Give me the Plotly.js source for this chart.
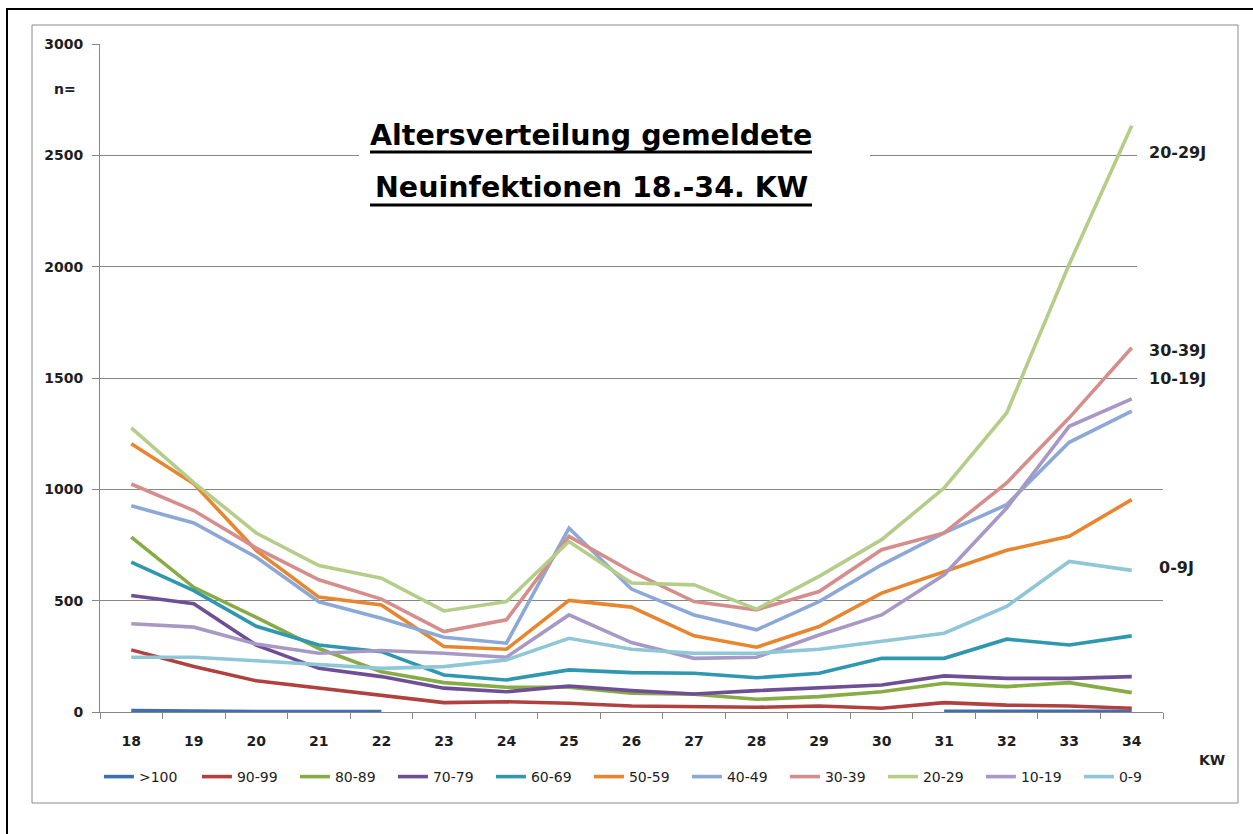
<!DOCTYPE html>
<html>
<head>
<meta charset="utf-8">
<script src="https://cdn.plot.ly/plotly-3.0.1.min.js"></script>
<style>html,body{margin:0;padding:0;background:#fff;}#chart{width:1253px;height:834px;}</style>
</head>
<body>
<div id="chart"></div>
<script>
// Kalenderwochen (KW)
const weeks = ["18","19","20","21","22","23","24","25","26","27","28","29","30","31","32","33","34"];

// Altersgruppen / series
const groups = [">100","90-99","80-89","70-79","60-69","50-59","40-49","30-39","20-29","10-19","0-9"];
const colors = ["#3F6FAF","#B0413E","#88AC45","#6E4F96","#3097B0","#E8862F","#8CA8D6","#D58E8C","#B4CE8A","#A898C6","#8FC6D8"];

const s_over100 = [7,3,2,2,2,null,null,null,null,null,null,null,null,3,3,3,3];
const s_90_99 = [279,204,140,106,76,42,46,39,27,24,21,27,17,42,31,27,17];
const s_80_89 = [785,560,425,285,181,132,111,111,84,80,57,69,91,129,114,132,87];
const s_70_79 = [523,486,300,196,159,107,91,117,96,81,96,107,121,162,151,151,159];
const s_60_69 = [673,545,385,301,271,166,144,189,177,174,154,174,241,241,327,301,342];
const s_50_59 = [1205,1025,725,516,481,294,282,501,471,342,291,384,534,631,726,789,954];
const s_40_49 = [926,849,695,495,421,336,309,826,552,436,369,496,661,804,931,1211,1351];
const s_30_39 = [1024,905,736,594,507,361,414,789,631,496,459,541,729,804,1029,1321,1636];
const s_20_29 = [1276,1030,804,658,601,454,496,766,579,571,462,609,774,1006,1343,2011,2633];
const s_10_19 = [396,381,305,264,276,264,246,436,312,241,246,346,436,616,916,1283,1406];
const s_0_9 = [246,246,230,211,196,204,234,331,282,264,264,282,316,354,474,676,636];

const seriesValues = [s_over100,s_90_99,s_80_89,s_70_79,s_60_69,s_50_59,s_40_49,s_30_39,s_20_29,s_10_19,s_0_9];

const yTicks = [0,500,1000,1500,2000,2500,3000];

const traces = groups.map((g,i)=>({
  type:"scatter", mode:"lines", name:g, x:weeks, y:seriesValues[i],
  line:{color:colors[i], width:3.6}, connectgaps:false, hoverinfo:"x+y+name"
}));

// plot area in pixels: x 100..1163, y 44..712
const L=100, R=1163, T=44, B=712, W=1253;
const px = v => (v-L)/(R-L);
const py = v => (B-v)/(B-T);

const FONT = "DejaVu Sans, Liberation Sans, sans-serif";
const TXT = "#1e1e1e";

const layout = {
  width:W, height:834,
  margin:{l:L, r:W-R, t:T, b:834-B, pad:0, autoexpand:false},
  paper_bgcolor:"#fff", plot_bgcolor:"#fff",
  showlegend:true,
  legend:{orientation:"h", x:-0.001, xanchor:"left", y:py(777), yanchor:"middle",
    font:{family:FONT, size:14, color:TXT}, entrywidth:53, entrywidthmode:"pixels",
    bgcolor:"rgba(0,0,0,0)", traceorder:"normal", itemclick:false},
  xaxis:{type:"category", categoryorder:"array", categoryarray:weeks, range:[-0.5,16.5],
    showline:true, linecolor:"#868686", linewidth:1, showgrid:false, zeroline:false,
    ticks:"outside", tickson:"boundaries", ticklen:6, tickcolor:"#868686", tickwidth:1,
    tickfont:{family:FONT, size:14, color:TXT, weight:"bold"}, ticklabelstandoff:16, fixedrange:true},
  yaxis:{range:[0,3000], tickvals:yTicks, ticktext:yTicks.map(String),
    showline:true, linecolor:"#868686", linewidth:1, showgrid:true, gridcolor:"#868686", gridwidth:1,
    zeroline:false, ticks:"outside", ticklen:7, tickcolor:"#868686", tickwidth:1,
    tickfont:{family:FONT, size:14, color:TXT, weight:"bold"}, ticklabelstandoff:6, fixedrange:true},
  shapes:[
    {type:"rect", xref:"paper", yref:"paper", x0:px(7), x1:px(1262), y0:py(9), y1:py(842),
      line:{color:"#000", width:2}, fillcolor:"rgba(0,0,0,0)", layer:"above"},
    {type:"rect", xref:"paper", yref:"paper", x0:px(32), x1:px(1238), y0:py(25), y1:py(803),
      line:{color:"#8a8a8a", width:1}, fillcolor:"rgba(0,0,0,0)", layer:"above"},
    {type:"rect", xref:"paper", yref:"paper", x0:px(359), x1:px(870), y0:py(108), y1:py(214),
      line:{width:0}, fillcolor:"#fff", layer:"above"},
    {type:"rect", xref:"paper", yref:"paper", x0:px(1137), x1:px(1166), y0:py(38), y1:py(390),
      line:{width:0}, fillcolor:"#fff", layer:"above"},
    {type:"line", xref:"paper", yref:"paper", x0:px(370), x1:px(812), y0:py(152), y1:py(152),
      line:{color:"#000", width:3}, layer:"above"},
    {type:"line", xref:"paper", yref:"paper", x0:px(370), x1:px(812), y0:py(205), y1:py(205),
      line:{color:"#000", width:3}, layer:"above"}
  ],
  annotations:[
    {xref:"paper", yref:"paper", x:px(591), y:py(135), xanchor:"center", yanchor:"middle", showarrow:false,
      text:"<b>Altersverteilung gemeldete</b>", font:{family:FONT, size:28.5, color:"#000"}},
    {xref:"paper", yref:"paper", x:px(591), y:py(187), xanchor:"center", yanchor:"middle", showarrow:false,
      text:"<b>Neuinfektionen 18.-34. KW</b>", font:{family:FONT, size:28.5, color:"#000"}},
    {xref:"paper", yref:"paper", x:px(1147), y:py(152), xanchor:"left", yanchor:"middle", showarrow:false,
      text:"<b>20-29J</b>", font:{family:FONT, size:16, color:TXT}},
    {xref:"paper", yref:"paper", x:px(1147), y:py(350), xanchor:"left", yanchor:"middle", showarrow:false,
      text:"<b>30-39J</b>", font:{family:FONT, size:16, color:TXT}},
    {xref:"paper", yref:"paper", x:px(1147), y:py(378), xanchor:"left", yanchor:"middle", showarrow:false,
      text:"<b>10-19J</b>", font:{family:FONT, size:16, color:TXT}},
    {xref:"paper", yref:"paper", x:px(1157), y:py(567), xanchor:"left", yanchor:"middle", showarrow:false,
      text:"<b>0-9J</b>", font:{family:FONT, size:16, color:TXT}},
    {xref:"paper", yref:"paper", x:px(1212), y:py(760), xanchor:"center", yanchor:"middle", showarrow:false,
      text:"<b>KW</b>", font:{family:FONT, size:14, color:TXT}},
    {xref:"paper", yref:"paper", x:px(65), y:py(89), xanchor:"center", yanchor:"middle", showarrow:false,
      text:"<b>n=</b>", font:{family:FONT, size:14, color:TXT}}
  ]
};

Plotly.newPlot("chart", traces, layout, {displayModeBar:false, staticPlot:true});
</script>
</body>
</html>
